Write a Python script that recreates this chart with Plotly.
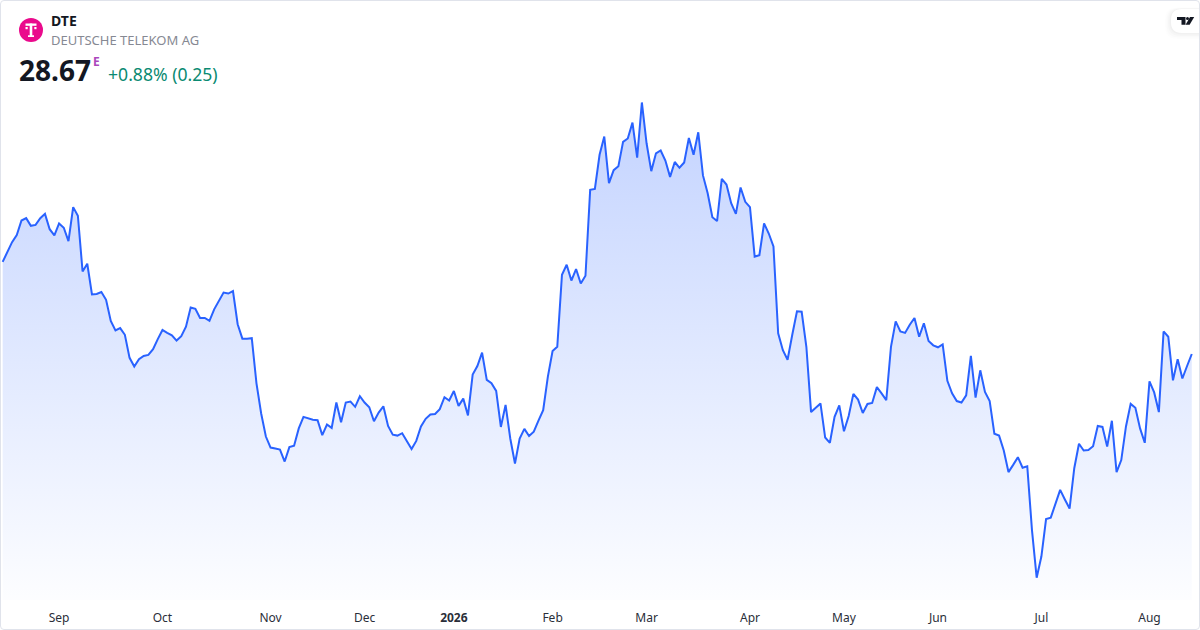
import plotly.graph_objects as go

# daily closes
close = [
    30.59, 30.78, 31.00, 31.15, 31.45, 31.50, 31.34, 31.36, 31.50, 31.59, 31.27, 31.14, 31.39, 31.30, 31.02, 31.73,
    31.55, 30.39, 30.55, 29.91, 29.92, 29.96, 29.80, 29.36, 29.16, 29.21, 29.07, 28.59, 28.41, 28.56, 28.63, 28.65,
    28.77, 28.98, 29.17, 29.11, 29.06, 28.95, 29.04, 29.24, 29.64, 29.61, 29.42, 29.42, 29.36, 29.60, 29.78, 29.95,
    29.93, 29.98, 29.29, 28.99, 28.99, 29.00, 28.06, 27.43, 26.95, 26.72, 26.70, 26.68, 26.43, 26.73, 26.76, 27.12,
    27.36, 27.33, 27.30, 27.29, 26.98, 27.20, 27.13, 27.66, 27.25, 27.66, 27.68, 27.57, 27.79, 27.66, 27.56, 27.27,
    27.45, 27.58, 27.17, 26.99, 26.97, 27.02, 26.86, 26.69, 26.86, 27.16, 27.32, 27.41, 27.42, 27.52, 27.77, 27.70,
    27.90, 27.59, 27.74, 27.39, 28.24, 28.42, 28.70, 28.13, 28.06, 27.90, 27.15, 27.61, 26.91, 26.39, 26.91, 27.11,
    26.96, 27.05, 27.28, 27.50, 28.20, 28.73, 28.82,
    30.32, 30.53, 30.20, 30.44, 30.14, 30.30, 32.09, 32.11, 32.82, 33.20, 32.23, 32.50, 32.58, 33.09, 33.16, 33.49,
    32.76, 33.91, 33.06, 32.48, 32.85, 32.91, 32.70, 32.36, 32.67, 32.55, 32.66, 33.17, 32.82, 33.29, 32.39, 32.02,
    31.52, 31.44, 32.32, 32.20, 31.81, 31.59, 32.14, 31.84, 31.73, 30.70, 30.73, 31.39, 31.18, 30.91, 29.10, 28.75,
    28.55, 29.07, 29.56, 29.55,
    28.82, 27.46, 27.56, 27.64, 26.93, 26.82, 27.36, 27.60, 27.06, 27.38, 27.84, 27.72, 27.44, 27.63, 27.65, 27.98,
    27.85, 27.71, 28.82, 29.35, 29.14, 29.11, 29.28, 29.42, 29.03, 29.31, 28.94, 28.85, 28.81, 28.87, 28.11, 27.85,
    27.69, 27.66, 27.81, 28.63, 27.76, 28.33, 27.88, 27.69, 27.01, 26.97,
    26.66, 26.21, 26.36, 26.52, 26.30, 26.33, 25.00, 24.01, 24.45, 25.23, 25.26, 25.56, 25.84, 25.64, 25.45, 26.29,
    26.80, 26.66, 26.67, 26.75, 27.17, 27.15, 26.74, 27.28, 26.21, 26.46, 27.16, 27.63, 27.55, 27.12, 26.82, 28.10,
    27.87, 27.46, 29.14, 29.03, 28.12, 28.56, 28.16, 28.42, 28.67,
]
tick_index = [12, 34, 57, 77, 96, 117, 137, 159, 179, 199, 221, 244]
tick_text = ["Sep", "Oct", "Nov", "Dec", "<b>2026</b>", "Feb", "Mar", "Apr", "May", "Jun", "Jul", "Aug"]

W, H, PANE_H = 1200, 630, 600
FONT = "Noto Sans"


def px(x):
    return x / W


def py(y):
    return 1 - y / PANE_H


def path(points):
    # closed svg path in paper coordinates, from picture pixels
    return "M" + " L".join(f"{px(x):.5f},{py(y):.5f}" for x, y in points) + " Z"


def pill(left, top, bottom, right=1199, r=11):
    # rounded on the left side only
    return (f"M{px(left + r):.5f},{py(top):.5f} L{px(right):.5f},{py(top):.5f} L{px(right):.5f},{py(bottom):.5f} "
            f"L{px(left + r):.5f},{py(bottom):.5f} Q{px(left):.5f},{py(bottom):.5f} {px(left):.5f},{py(bottom - r):.5f} "
            f"L{px(left):.5f},{py(top + r):.5f} Q{px(left):.5f},{py(top):.5f} {px(left + r):.5f},{py(top):.5f} Z")


fig = go.Figure()
fig.add_trace(go.Scatter(
    x=list(range(len(close))), y=close, mode="lines",
    line=dict(color="#2962ff", width=2, shape="linear"),
    fill="tozeroy",
    fillgradient=dict(type="vertical", start=23.55, stop=33.91,
                      colorscale=[[0, "rgba(41,98,255,0.012)"], [1, "rgba(41,98,255,0.28)"]]),
    hoverinfo="skip", showlegend=False,
))

shapes = []
# magenta logo with the T
shapes.append(dict(type="circle", xref="paper", yref="paper", x0=px(19), x1=px(43), y0=py(42), y1=py(18),
                   fillcolor="#ea0a8c", line_width=0))
for x0, y0, x1, y1 in [(25.5, 23.5, 36.5, 25.8), (29.7, 23.5, 32.3, 37), (28, 35.3, 34, 37),
                       (25.5, 27, 27.7, 29.2), (34.3, 27, 36.5, 29.2)]:
    shapes.append(dict(type="rect", xref="paper", yref="paper", x0=px(x0), x1=px(x1), y0=py(y1), y1=py(y0),
                       fillcolor="white", line_width=0))

# tradingview pill, soft shadow first, mostly below
for grow, alpha in [(6, 0.008), (4.5, 0.01), (3, 0.014), (1.5, 0.02)]:
    shapes.append(dict(type="path", xref="paper", yref="paper", path=pill(1171 - grow, 9 - grow / 4, 33 + grow, r=12),
                       fillcolor=f"rgba(0,0,0,{alpha})", line_width=0))
shapes.append(dict(type="path", xref="paper", yref="paper", path=pill(1171, 9, 33, r=11),
                   fillcolor="white", line_width=0))
shapes.append(dict(type="path", xref="paper", yref="paper",
                   path=path([(1177, 17), (1185.5, 17), (1185.5, 24.7), (1181.5, 24.7), (1181.5, 20), (1177, 20)]),
                   fillcolor="#131722", line_width=0))
shapes.append(dict(type="circle", xref="paper", yref="paper", x0=px(1186), x1=px(1189), y0=py(20), y1=py(17),
                   fillcolor="#131722", line_width=0))
shapes.append(dict(type="path", xref="paper", yref="paper",
                   path=path([(1190, 17), (1194.2, 17), (1189.6, 24.7), (1185.6, 24.7)]),
                   fillcolor="#131722", line_width=0))
# card border
r = 4
shapes.append(dict(type="path", xref="paper", yref="paper",
                   path=f"M{px(r):.5f},{py(0.5):.5f} L{px(W - r):.5f},{py(0.5):.5f} "
                        f"Q{px(W - 0.5):.5f},{py(0.5):.5f} {px(W - 0.5):.5f},{py(r):.5f} "
                        f"L{px(W - 0.5):.5f},{py(H - r):.5f} "
                        f"Q{px(W - 0.5):.5f},{py(H - 0.5):.5f} {px(W - r):.5f},{py(H - 0.5):.5f} "
                        f"L{px(r):.5f},{py(H - 0.5):.5f} "
                        f"Q{px(0.5):.5f},{py(H - 0.5):.5f} {px(0.5):.5f},{py(H - r):.5f} "
                        f"L{px(0.5):.5f},{py(r):.5f} "
                        f"Q{px(0.5):.5f},{py(0.5):.5f} {px(r):.5f},{py(0.5):.5f} Z",
                   line=dict(color="#e0e3eb", width=1), fillcolor="rgba(0,0,0,0)"))


def label(text, x, y, size, color):
    # annotations carry about 2px of padding on the left
    fig.add_annotation(text=text, xref="paper", yref="paper", x=px(x - 2), y=py(y), xanchor="left", yanchor="middle",
                       showarrow=False, font=dict(family=FONT, size=size, color=color))


label("<b>DTE</b>", 51, 20.5, 14, "#131722")
label("DEUTSCHE TELEKOM AG", 51, 40, 13, "#868993")
label("<b>28.67</b>", 19, 70.5, 28, "#131722")
label("<b>E</b>", 93, 61, 12, "#ab47bc")
label("+0.88% (0.25)", 108, 74, 17.6, "#0a8a72")

fig.update_layout(
    width=W, height=H, margin=dict(l=0, r=0, t=0, b=H - PANE_H),
    paper_bgcolor="white", plot_bgcolor="rgba(0,0,0,0)",
    shapes=shapes,
    font=dict(family=FONT),
    xaxis=dict(range=[-0.568, 254.75], tickmode="array", tickvals=tick_index, ticktext=tick_text,
               showgrid=False, zeroline=False, showline=False, ticks="", ticklabelstandoff=9,
               tickfont=dict(size=12, color="#2a2e39")),
    yaxis=dict(range=[23.545, 36.045], visible=False, showgrid=False, zeroline=False),
)
fig.write_html("out.html", config=dict(displayModeBar=False), post_script="document.body.style.margin='0';")
